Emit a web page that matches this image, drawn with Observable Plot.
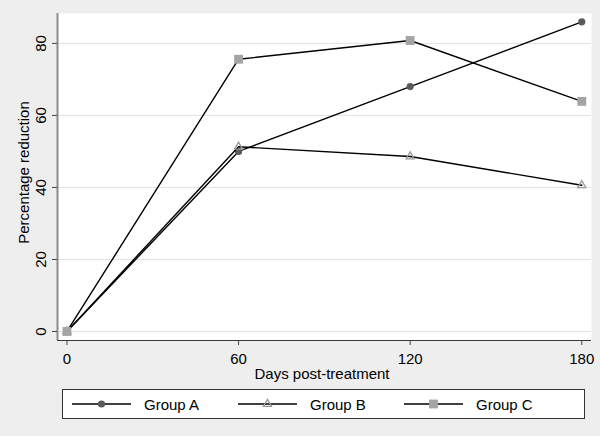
<!DOCTYPE html>
<html>
<head>
<meta charset="utf-8">
<script src="https://cdn.jsdelivr.net/npm/d3@7"></script>
<script src="https://cdn.jsdelivr.net/npm/@observablehq/plot@0.6"></script>
<style>
  html, body { margin: 0; padding: 0; background: #eeeeee; width: 600px; height: 436px; overflow: hidden;
    font-family: "Liberation Sans", Arial, sans-serif; }
  #chart { position: absolute; left: 0; top: 0; }
  #legend { position: absolute; left: 62px; top: 389px; width: 523px; height: 30px; box-sizing: border-box;
    border: 1px solid #333; background: #fff; display: flex; align-items: center; padding-left: 9px; }
  .item { display: flex; align-items: center; width: 166px; font-size: 15px; color: #000; }
  .item svg { display: block; }
  .item span { margin-left: 13px; }
</style>
</head>
<body>
<div id="chart"></div>
<div id="legend"></div>
<script>
const days = [0, 60, 120, 180];
const groups = ["Group A", "Group B", "Group C"];
const groupA = [0, 50, 68, 86];
const groupB = [0, 51.3, 48.6, 40.6];
const groupC = [0, 75.6, 80.8, 63.9];
const xTicks = [0, 60, 120, 180];
const yTicks = [0, 20, 40, 60, 80];
const xLabel = "Days post-treatment";
const yLabel = "Percentage reduction";

const series = [groupA, groupB, groupC];
const styles = [
  {symbol: "circle", r: 3.6, fill: "#5a5a5a", stroke: "none", strokeWidth: 0},
  {symbol: "triangle", r: 3, fill: "none", stroke: "#999999", strokeWidth: 1.3},
  {symbol: "square", r: 5, fill: "#a4a4a4", stroke: "none", strokeWidth: 0}
];
const rows = groups.map((g, i) => days.map((d, j) => ({group: g, day: d, value: series[i][j]})));

const xDomain = [-3.3, 183.4];
const yDomain = [-2.5, 88.3];

const marks = [
  Plot.frame({fill: "white", stroke: "none"}),
  Plot.gridY(yTicks, {stroke: "#e2e2e2", strokeOpacity: 1, strokeWidth: 1}),
  Plot.ruleX([xDomain[0]], {stroke: "#8c8c8c", strokeWidth: 2}),
  Plot.ruleY([yDomain[0]], {stroke: "#3a3a3a", strokeWidth: 1.2}),
  Plot.axisY({ticks: yTicks, tickSize: 5, tickFormat: () => "", fill: "none", label: null, stroke: "#444"}),
  Plot.text(yTicks, {y: d => d, text: d => String(d), frameAnchor: "left", rotate: -90,
    textAnchor: "middle", lineAnchor: "bottom", dx: -12, fontSize: 15, fill: "#000"}),
  Plot.axisX({ticks: xTicks, tickSize: 5, tickPadding: 8, fontSize: 15, label: null, stroke: "#444", fill: "#000"}),
  Plot.text([xLabel], {frameAnchor: "bottom", lineAnchor: "top", dy: 28, dx: -2.5, fontSize: 15, fill: "#000"}),
  Plot.text([yLabel], {frameAnchor: "left", rotate: -90, lineAnchor: "bottom", textAnchor: "middle",
    dx: -29, dy: -4.5, fontSize: 15, fill: "#000"})
];
rows.forEach((r, i) => {
  marks.push(Plot.line(r, {x: "day", y: "value", stroke: "#000", strokeWidth: 1.4}));
  marks.push(Plot.dot(r, {x: "day", y: "value", ...styles[i]}));
});

const chart = Plot.plot({
  width: 600,
  height: 383,
  marginLeft: 57,
  marginRight: 9,
  marginTop: 13,
  marginBottom: 43,
  style: {background: "transparent", fontFamily: "Liberation Sans, Arial, sans-serif", fontSize: "15px", overflow: "visible"},
  x: {domain: xDomain, axis: null},
  y: {domain: yDomain, axis: null},
  marks
});
document.getElementById("chart").appendChild(chart);

// legend
const legend = d3.select("#legend");
groups.forEach((g, i) => {
  const item = legend.append("div").attr("class", "item");
  const svg = item.append("svg").attr("width", 59).attr("height", 14);
  svg.append("line").attr("x1", 0).attr("x2", 59).attr("y1", 7).attr("y2", 7)
    .attr("stroke", "#000").attr("stroke-width", 1.4);
  const st = styles[i];
  const sym = st.symbol === "circle" ? d3.symbolCircle : st.symbol === "triangle" ? d3.symbolTriangle : d3.symbolSquare;
  svg.append("path").attr("transform", "translate(29.5,7)")
    .attr("d", d3.symbol(sym, st.r * st.r * Math.PI)())
    .attr("fill", st.fill).attr("stroke", st.stroke).attr("stroke-width", st.strokeWidth);
  item.append("span").text(g);
});
</script>
</body>
</html>
